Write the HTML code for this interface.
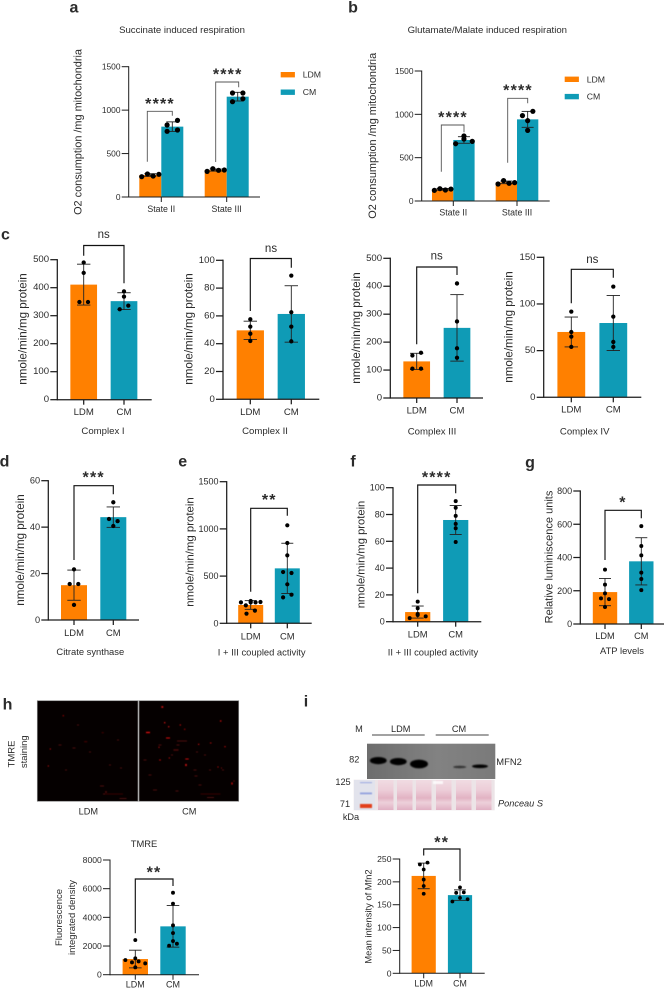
<!DOCTYPE html>
<html lang="en">
<head>
<meta charset="utf-8">
<title>Mitochondrial respiration figure</title>
<style>
html,body{margin:0;padding:0;background:#fff;}
body{width:666px;height:988px;overflow:hidden;}
svg{display:block;font-family:"Liberation Sans",Arial,sans-serif;filter:blur(0.3px);}
text{fill:#2b2b2b;}
</style>
</head>
<body>
<svg id="figure" width="666" height="988" viewBox="0 0 666 988" xmlns="http://www.w3.org/2000/svg">
<defs>
<filter id="soft" x="-30%" y="-80%" width="160%" height="260%"><feGaussianBlur stdDeviation="0.9"/></filter>
<filter id="softer" x="-30%" y="-30%" width="160%" height="160%"><feGaussianBlur stdDeviation="0.5"/></filter>
<linearGradient id="blotBg" x1="0" x2="1" y1="0" y2="0"><stop offset="0" stop-color="#6d6d6d"/><stop offset="0.55" stop-color="#828282"/><stop offset="1" stop-color="#7a7a7a"/></linearGradient>
<linearGradient id="laneBg" x1="0" x2="0" y1="0" y2="1"><stop offset="0" stop-color="#f0dbe2"/><stop offset="0.35" stop-color="#ecccd7"/><stop offset="0.6" stop-color="#e2b3c3"/><stop offset="0.75" stop-color="#edd0da"/><stop offset="1" stop-color="#e0b0c3"/></linearGradient>
</defs>

<!-- TMRE micrographs -->
<g>
<rect x="37.3" y="700.7" width="100.7" height="100.6" fill="#050000" stroke="#8a8a8a" stroke-width="0.7"/>
<rect x="139" y="700.7" width="99.7" height="100.6" fill="#050000" stroke="#8a8a8a" stroke-width="0.7"/>
<g id="specks" filter="url(#softer)"></g>
</g>

<!-- Western blot -->
<g>
<rect x="367" y="743.7" width="128.3" height="35.3" fill="url(#blotBg)"/>
<g fill="#050505" filter="url(#soft)">
<ellipse cx="378.3" cy="760.6" rx="8.4" ry="3.6"/>
<ellipse cx="398.3" cy="761.6" rx="8.4" ry="3.6"/>
<ellipse cx="419" cy="764" rx="9" ry="4.4"/>
<ellipse cx="459.7" cy="767" rx="6.5" ry="1.3" fill="#333"/>
<ellipse cx="480" cy="766.3" rx="8" ry="1.8"/>
</g>
<rect x="353.7" y="779.7" width="141" height="30.6" fill="#ece4e7"/>
<rect x="354" y="780" width="21" height="30" fill="#e2e3ec"/>
<g>
<rect x="378" y="780" width="15.5" height="30" fill="url(#laneBg)"/>
<rect x="397" y="780" width="15.5" height="30" fill="url(#laneBg)"/>
<rect x="416" y="780" width="15.5" height="30" fill="url(#laneBg)"/>
<rect x="436" y="780" width="15.5" height="30" fill="url(#laneBg)"/>
<rect x="456" y="780" width="15.5" height="30" fill="url(#laneBg)"/>
<rect x="476" y="780" width="15.5" height="30" fill="url(#laneBg)"/>
</g>
<rect x="360" y="782" width="12" height="1.2" fill="#a5b1e2" filter="url(#softer)"/>
<rect x="360" y="792.5" width="12" height="1.8" fill="#93a1de" filter="url(#softer)"/>
<rect x="360" y="804" width="12" height="4" fill="#e2401f" filter="url(#softer)"/>
<rect x="433" y="781" width="10" height="3" fill="#fff" opacity="0.8" filter="url(#softer)"/>
</g>
<g stroke="#444" stroke-width="1">
<line x1="372" x2="424.7" y1="735" y2="735"/>
<line x1="435.7" x2="488.7" y1="735" y2="735"/>
</g>
<g id="annotations"></g>
<g id="charts"></g>
</svg>

<script>
// ---------- shared categories ----------
const treatmentLabels = ['LDM', 'CM'];
const stateLabels = ['State II', 'State III'];

// ---------- a: succinate respiration ----------
const succinateTicks = [0, 500, 1000, 1500];
const succinateLdmMeans = [253, 310];
const succinateCmMeans = [810, 1155];
const succinateLdmSd = [15, 12];
const succinateCmSd = [55, 50];
const succinateLdmStateII = [234, 265, 242, 261];
const succinateCmStateII = [829, 756, 882, 771];
const succinateLdmStateIII = [295, 326, 307, 311];
const succinateCmStateIII = [1197, 1097, 1197, 1132];

// ---------- b: glutamate/malate respiration ----------
const glutamateTicks = [0, 500, 1000, 1500];
const glutamateLdmMeans = [135, 215];
const glutamateCmMeans = [704, 942];
const glutamateLdmSd = [10, 15];
const glutamateCmSd = [38, 92];
const glutamateLdmStateII = [123, 142, 127, 138];
const glutamateCmStateII = [661, 715, 688, 750];
const glutamateLdmStateIII = [196, 235, 204, 212];
const glutamateCmStateIII = [985, 1035, 927, 815];

// ---------- c: complexes ----------
const complexITicks = [0, 100, 200, 300, 400, 500];
const complexIMeans = [411, 352];
const complexISd = [73, 30];
const complexILdm = [490, 453, 349, 349];
const complexICm = [387, 368, 323, 336];

const complexIITicks = [0, 20, 40, 60, 80, 100];
const complexIIMeans = [49.6, 61.4];
const complexIISd = [6.6, 20.3];
const complexIILdm = [57.6, 52.3, 47.2, 42];
const complexIICm = [89, 62.6, 52.3, 41.7];

const complexIIITicks = [0, 100, 200, 300, 400, 500];
const complexIIIMeans = [131, 251];
const complexIIISd = [29, 119];
const complexIIILdm = [152, 162, 105, 105];
const complexIIICm = [410, 274, 178, 144];

const complexIVTicks = [0, 50, 100, 150];
const complexIVMeans = [70, 79.6];
const complexIVSd = [16, 29.5];
const complexIVLdm = [91.8, 70, 65, 54];
const complexIVCm = [118.6, 86.4, 59.3, 54];

// ---------- d: citrate synthase ----------
const citrateTicks = [0, 20, 40, 60];
const citrateMeans = [15, 44.3];
const citrateSd = [6.5, 4.4];
const citrateLdm = [21.8, 15.5, 15.5, 6.5];
const citrateCm = [50.7, 43.5, 42.6, 40.5];

// ---------- e: I + III ----------
const coupledOneTicks = [0, 500, 1000, 1500];
const coupledOneMeans = [194, 582];
const coupledOneSd = [46, 266];
const coupledOneLdm = [222, 236, 190, 222, 222, 226, 102, 134];
const coupledOneCm = [1038, 851, 720, 543, 533, 413, 275, 303];

// ---------- f: II + III ----------
const coupledTwoTicks = [0, 20, 40, 60, 80, 100];
const coupledTwoMeans = [7.2, 75.9];
const coupledTwoSd = [4.5, 10.8];
const coupledTwoLdm = [2.7, 5, 4, 5.7, 10, 15];
const coupledTwoCm = [90, 85, 79, 73, 69.7, 59.5];

// ---------- g: ATP ----------
const atpTicks = [0, 200, 400, 600, 800];
const atpMeans = [192, 377];
const atpSd = [82, 142];
const atpLdm = [327, 237, 184, 154, 150, 102];
const atpCm = [589, 469, 413, 309, 271, 204];

// ---------- h: TMRE ----------
const tmreTicks = [0, 2000, 4000, 6000, 8000];
const tmreMeans = [1093, 3372];
const tmreSd = [616, 1450];
const tmreLdm = [2419, 1023, 860, 930, 790, 1140, 512];
const tmreCm = [5720, 4953, 3442, 2907, 2349, 2023, 2163];

// ---------- i: Mfn2 ----------
const mfn2Ticks = [0, 50, 100, 150, 200, 250];
const mfn2Means = [213, 171];
const mfn2Sd = [28, 11.5];
const mfn2Ldm = [238, 242, 227, 205, 191, 174];
const mfn2Cm = [188, 176, 177, 157, 165, 162];

const ORANGE = '#ff8000';
const TEAL = '#0f9bb6';
const SVGNS = 'http://www.w3.org/2000/svg';

function mk(tag, attrs, parent, name, interactable) {
  const el = document.createElementNS(SVGNS, tag);
  for (const k in attrs) el.setAttribute(k, attrs[k]);
  
  
  parent.appendChild(el);
  return el;
}
function label(parent, name, str, x, y, size, opts) {
  const o = opts || {};
  const a = { x: x, y: y, 'font-size': size, 'text-anchor': o.anchor || 'middle', 'dominant-baseline': 'central' };
  if (o.rotate) a.transform = 'rotate(-90 ' + x + ' ' + y + ')';
  if (o.weight) a['font-weight'] = o.weight;
  if (o.italic) a['font-style'] = 'italic';
  const t = mk('text', a, parent, name);
  t.textContent = str;
  return t;
}
function linearY(cfg) {
  return function (v) { return cfg.y0 - v / cfg.yMax * (cfg.y0 - cfg.top); };
}
// Prism-style swarm: values in the same row of dot height spread sideways, in input order.
function swarm(values, y, cfg, barW) {
  const dot = cfg.r * 2;
  const row = cfg.row || dot;
  const order = values.map(function (v, i) { return i; }).sort(function (p, q) { return values[p] - values[q]; });
  const dx = new Array(values.length).fill(0);
  let i = 0;
  while (i < order.length) {
    const startY = y(values[order[i]]);
    const grp = [];
    while (i < order.length && startY - y(values[order[i]]) <= row) { grp.push(order[i]); i++; }
    grp.sort(function (p, q) { return p - q; });
    const n = grp.length;
    if (n > 1) {
      const pitch = Math.min(dot * 2, barW * 0.78 / (n - 1));
      grp.forEach(function (idx, k) { dx[idx] = (k - (n - 1) / 2) * pitch; });
    }
  }
  return dx;
}
function pairBars(first, step, w, means, sds, ldm, cm) {
  return [
    { cx: first, w: w, mean: means[0], sd: sds[0], pts: ldm, color: ORANGE, name: 'ldm' },
    { cx: first + step, w: w, mean: means[1], sd: sds[1], pts: cm, color: TEAL, name: 'cm' }
  ];
}
function groupedBars(first, step, w, ldmMeans, cmMeans, ldmSd, cmSd, ldmPts, cmPts) {
  const out = [];
  ldmMeans.forEach(function (m, i) {
    const c = first + step * i;
    out.push({ cx: c - w / 2, w: w, mean: m, sd: ldmSd[i], pts: ldmPts[i], color: ORANGE, name: 'ldm-state-' + (i + 2) });
    out.push({ cx: c + w / 2, w: w, mean: cmMeans[i], sd: cmSd[i], pts: cmPts[i], color: TEAL, name: 'cm-state-' + (i + 2) });
  });
  return out;
}
function drawBracket(g, br, stroke, sw, name) {
  mk('path', {
    d: 'M' + br.x1 + ' ' + br.leftBottom + 'V' + br.top + 'H' + br.x2 + 'V' + br.rightBottom,
    fill: 'none', stroke: stroke, 'stroke-width': sw
  }, g, name + '-bracket');
  if (br.stars) {
    const fs = br.starSize || 16;
    const t = mk('text', {
      x: br.tx, y: br.ty + fs * 0.46, 'font-size': fs, 'font-weight': 'bold',
      'text-anchor': 'middle', 'letter-spacing': br.spacing === undefined ? 1.2 : br.spacing, fill: '#222'
    }, g, name + '-significance');
    t.textContent = br.stars;
  } else {
    label(g, name + '-significance', 'ns', br.tx, br.ty, 11.5);
  }
}
function drawPanel(cfg) {
  const root = document.getElementById('charts');
  const g = mk('g', {}, root, cfg.name);
  const y = linearY(cfg);
  const axisW = cfg.axisW || 1.25;
  // bars
  cfg.bars.forEach(function (b) {
    mk('rect', { x: b.cx - b.w / 2, y: y(b.mean), width: b.w, height: cfg.y0 - y(b.mean), fill: b.color }, g, cfg.name + '-bar-' + b.name);
  });
  // axes
  mk('line', { x1: cfg.x, x2: cfg.x, y1: cfg.top - axisW / 2, y2: cfg.y0 + axisW / 2, stroke: '#1c1c1c', 'stroke-width': axisW }, g, cfg.name + '-y-axis');
  mk('line', { x1: cfg.x, x2: cfg.end, y1: cfg.y0, y2: cfg.y0, stroke: '#1c1c1c', 'stroke-width': axisW }, g, cfg.name + '-x-axis');
  cfg.ticks.forEach(function (t) {
    mk('line', { x1: cfg.x - 7, x2: cfg.x, y1: y(t), y2: y(t), stroke: '#1c1c1c', 'stroke-width': axisW }, g, cfg.name + '-y-tick');
    label(g, cfg.name + '-y-tick-label', String(t), cfg.x - 8.2, y(t), cfg.tickSize, { anchor: 'end' });
  });
  cfg.cats.forEach(function (c, i) {
    const cx = cfg.catX(i);
    mk('line', { x1: cx, x2: cx, y1: cfg.y0, y2: cfg.y0 + 5, stroke: '#1c1c1c', 'stroke-width': axisW }, g, cfg.name + '-x-tick');
    label(g, cfg.name + '-x-label', c, cx, cfg.xLabelY, cfg.xSize);
  });
  // error bars then dots
  cfg.bars.forEach(function (b) {
    const hi = y(b.mean + b.sd), lo = y(b.mean - b.sd), cap = cfg.cap || 6.7;
    mk('line', { x1: b.cx, x2: b.cx, y1: hi, y2: lo, stroke: '#222', 'stroke-width': 0.9 }, g, cfg.name + '-error-bar-' + b.name);
    mk('line', { x1: b.cx - cap, x2: b.cx + cap, y1: hi, y2: hi, stroke: '#222', 'stroke-width': 0.9 }, g, cfg.name + '-error-cap-' + b.name);
    mk('line', { x1: b.cx - cap, x2: b.cx + cap, y1: lo, y2: lo, stroke: '#222', 'stroke-width': 0.9 }, g, cfg.name + '-error-cap-' + b.name);
    const dx = swarm(b.pts, y, cfg, b.w);
    b.pts.forEach(function (v, i) {
      mk('circle', { cx: b.cx + dx[i], cy: y(v), r: cfg.r, fill: '#000' }, g, cfg.name + '-point-' + b.name);
    });
  });
  // brackets
  cfg.brackets.forEach(function (br) {
    drawBracket(g, br, cfg.bracketColor || '#111', cfg.bracketW || 1.15, cfg.name);
  });
  // y title
  cfg.yTitles.forEach(function (t) {
    label(g, cfg.name + '-y-title', t.text, t.x, t.y, t.size, { rotate: true });
  });
  if (cfg.title) label(g, cfg.name + '-title', cfg.title.text, cfg.title.x, cfg.title.y, cfg.title.size);
  if (cfg.legend) {
    const L = cfg.legend;
    treatmentLabels.forEach(function (s, i) {
      const ly = L.y + i * L.gap;
      mk('rect', { x: L.x, y: ly - 2.7, width: 14.2, height: 5.4, fill: i ? TEAL : ORANGE }, g, 'legend-swatch-' + s.toLowerCase());
      label(g, 'legend-entry-' + s.toLowerCase(), s, L.x + 22, ly, 8.7, { anchor: 'start' });
    });
  }
}
const yT = 'nmole/min/mg protein';
const o2T = 'O2 consumption /mg mitochondria';

drawPanel({
  name: 'panel-a-succinate', x: 128.7, top: 66.7, y0: 197, end: 260, yMax: 1500, ticks: succinateTicks, tickSize: 8.4,
  cats: stateLabels, catX: function (i) { return 161.3 + 65.4 * i; }, xLabelY: 209, xSize: 8.8,
  bars: groupedBars(161.3, 65.4, 22, succinateLdmMeans, succinateCmMeans, succinateLdmSd, succinateCmSd,
    [succinateLdmStateII, succinateLdmStateIII], [succinateCmStateII, succinateCmStateIII]),
  r: 2.6, row: 5, cap: 6, axisW: 1, bracketColor: '#555', bracketW: 0.9,
  brackets: [
    { x1: 147.3, x2: 172.3, top: 111.3, leftBottom: 161.7, rightBottom: 115.7, stars: '****', tx: 160, ty: 101.7 },
    { x1: 215.7, x2: 238.7, top: 82, leftBottom: 162, rightBottom: 87.3, stars: '****', tx: 227.7, ty: 72.3 }
  ],
  yTitles: [{ text: o2T, x: 78.3, y: 132, size: 10.9 }],
  title: { text: 'Succinate induced respiration', x: 182, y: 30.7, size: 9.6 },
  legend: { x: 280.7, y: 74.7, gap: 17.5 }
});
drawPanel({
  name: 'panel-b-glutamate', x: 421.7, top: 71, y0: 201, end: 549.7, yMax: 1500, ticks: glutamateTicks, tickSize: 8.4,
  cats: stateLabels, catX: function (i) { return 453.3 + 63.7 * i; }, xLabelY: 212.7, xSize: 8.8,
  bars: groupedBars(453.3, 63.7, 21.3, glutamateLdmMeans, glutamateCmMeans, glutamateLdmSd, glutamateCmSd,
    [glutamateLdmStateII, glutamateLdmStateIII], [glutamateCmStateII, glutamateCmStateIII]),
  r: 2.6, row: 4.8, cap: 6, axisW: 1, bracketColor: '#555', bracketW: 0.9,
  brackets: [
    { x1: 441.3, x2: 464, top: 125, leftBottom: 171.7, rightBottom: 132.3, stars: '****', tx: 453, ty: 115 },
    { x1: 507.7, x2: 527.7, top: 98.3, leftBottom: 162.7, rightBottom: 103.3, stars: '****', tx: 518, ty: 88 }
  ],
  yTitles: [{ text: o2T, x: 373, y: 135.8, size: 10.9 }],
  title: { text: 'Glutamate/Malate induced respiration', x: 487.3, y: 30.7, size: 9.6 },
  legend: { x: 564.7, y: 79.3, gap: 17.3 }
});

function simplePanel(o) {
  o.cats = treatmentLabels;
  o.catX = function (i) { return o.first + o.step * i; };
  o.bars = pairBars(o.first, o.step, o.w, o.means, o.sds, o.ldm, o.cm);
  drawPanel(o);
}
simplePanel({
  name: 'panel-c-complex-i', x: 57.3, top: 259.7, y0: 399.7, end: 151.7, yMax: 500, ticks: complexITicks, tickSize: 9.6,
  first: 83.7, step: 40.3, w: 26.7, means: complexIMeans, sds: complexISd, ldm: complexILdm, cm: complexICm,
  xLabelY: 412.3, xSize: 9.6, r: 2.15,
  brackets: [{ x1: 83.7, x2: 124, top: 245.5, leftBottom: 255.7, rightBottom: 283.3, tx: 103.7, ty: 235 }],
  yTitles: [{ text: yT, x: 23, y: 329, size: 11.6 }],
  title: { text: 'Complex I', x: 103, y: 431.7, size: 9.6 }
});
simplePanel({
  name: 'panel-c-complex-ii', x: 223, top: 260.3, y0: 399.3, end: 319.3, yMax: 100, ticks: complexIITicks, tickSize: 9.6,
  first: 250.3, step: 41, w: 27.3, means: complexIIMeans, sds: complexIISd, ldm: complexIILdm, cm: complexIICm,
  xLabelY: 412.3, xSize: 9.6, r: 2.15,
  brackets: [{ x1: 250.3, x2: 291.3, top: 258.5, leftBottom: 311, rightBottom: 267.7, tx: 271, ty: 249 }],
  yTitles: [{ text: yT, x: 189, y: 329, size: 11.6 }],
  title: { text: 'Complex II', x: 265, y: 431.7, size: 9.6 }
});
simplePanel({
  name: 'panel-c-complex-iii', x: 390.3, top: 258.3, y0: 398, end: 483, yMax: 500, ticks: complexIIITicks, tickSize: 9.6,
  first: 416.7, step: 40.3, w: 26.7, means: complexIIIMeans, sds: complexIIISd, ldm: complexIIILdm, cm: complexIIICm,
  xLabelY: 411, xSize: 9.6, r: 2.15,
  brackets: [{ x1: 416.7, x2: 457, top: 267, leftBottom: 344.3, rightBottom: 275, tx: 436.7, ty: 256.7 }],
  yTitles: [{ text: yT, x: 356.3, y: 328, size: 11.6 }],
  title: { text: 'Complex III', x: 432, y: 432, size: 9.6 }
});
simplePanel({
  name: 'panel-c-complex-iv', x: 543.7, top: 257.3, y0: 397.3, end: 641.3, yMax: 150, ticks: complexIVTicks, tickSize: 9.6,
  first: 571.3, step: 42, w: 27.8, means: complexIVMeans, sds: complexIVSd, ldm: complexIVLdm, cm: complexIVCm,
  xLabelY: 410, xSize: 9.6, r: 2.15,
  brackets: [{ x1: 571.3, x2: 613.3, top: 269.3, leftBottom: 303.3, rightBottom: 277.7, tx: 592.3, ty: 260 }],
  yTitles: [{ text: yT, x: 509, y: 327, size: 11.6 }],
  title: { text: 'Complex IV', x: 584.7, y: 432, size: 9.6 }
});
simplePanel({
  name: 'panel-d-citrate-synthase', x: 48.3, top: 480.7, y0: 620, end: 139, yMax: 60, ticks: citrateTicks, tickSize: 9.2,
  first: 74, step: 39.3, w: 26, means: citrateMeans, sds: citrateSd, ldm: citrateLdm, cm: citrateCm,
  xLabelY: 632.7, xSize: 9.4, r: 2.15,
  brackets: [{ x1: 74, x2: 113.3, top: 485.7, leftBottom: 560, rightBottom: 494.3, stars: '***', tx: 93.7, ty: 475 }],
  yTitles: [{ text: yT, x: 20.7, y: 550, size: 11.6 }],
  title: { text: 'Citrate synthase', x: 90.3, y: 651.7, size: 9.4 }
});
simplePanel({
  name: 'panel-e-i-iii-coupled', x: 226.7, top: 481.7, y0: 623.3, end: 311.7, yMax: 1500, ticks: coupledOneTicks, tickSize: 9,
  first: 250.7, step: 36.6, w: 25, means: coupledOneMeans, sds: coupledOneSd, ldm: coupledOneLdm, cm: coupledOneCm,
  xLabelY: 636, xSize: 9.4, r: 2.1, cap: 6,
  brackets: [{ x1: 250.7, x2: 287.3, top: 508.3, leftBottom: 591.7, rightBottom: 515.7, stars: '**', tx: 269.3, ty: 497.7 }],
  yTitles: [{ text: yT, x: 190.7, y: 552, size: 11.4 }],
  title: { text: 'I + III coupled activity', x: 261.7, y: 652, size: 9.4 }
});
simplePanel({
  name: 'panel-f-ii-iii-coupled', x: 393, top: 487.7, y0: 621.7, end: 481.3, yMax: 100, ticks: coupledTwoTicks, tickSize: 9,
  first: 417.7, step: 38, w: 25.2, means: coupledTwoMeans, sds: coupledTwoSd, ldm: coupledTwoLdm, cm: coupledTwoCm,
  xLabelY: 634, xSize: 9.4, r: 2, cap: 6,
  brackets: [{ x1: 417.7, x2: 455.7, top: 485, leftBottom: 593.3, rightBottom: 493.3, stars: '****', tx: 436.7, ty: 475 }],
  yTitles: [{ text: yT, x: 361.3, y: 554.5, size: 11.2 }],
  title: { text: 'II + III coupled activity', x: 433, y: 652, size: 9.4 }
});
simplePanel({
  name: 'panel-g-atp', x: 580.3, top: 491, y0: 624, end: 664, yMax: 800, ticks: atpTicks, tickSize: 9,
  first: 605, step: 36.3, w: 24.4, means: atpMeans, sds: atpSd, ldm: atpLdm, cm: atpCm,
  xLabelY: 636, xSize: 9.2, r: 2, cap: 6,
  brackets: [{ x1: 605, x2: 641.3, top: 510.3, leftBottom: 560, rightBottom: 518.3, stars: '*', tx: 623, ty: 500 }],
  yTitles: [{ text: 'Relative luminiscence units', x: 549.7, y: 557, size: 11 }],
  title: { text: 'ATP levels', x: 622, y: 650.7, size: 9.4 }
});
simplePanel({
  name: 'panel-h-tmre', x: 110, top: 860, y0: 974.7, end: 199, yMax: 8000, ticks: tmreTicks, tickSize: 8.6,
  first: 135.3, step: 37.7, w: 25.4, means: tmreMeans, sds: tmreSd, ldm: tmreLdm, cm: tmreCm,
  xLabelY: 984.7, xSize: 9, r: 1.95, cap: 6.3, axisW: 1,
  brackets: [{ x1: 135.3, x2: 173, top: 879, leftBottom: 933.3, rightBottom: 886, stars: '**', tx: 154, ty: 870.3 }],
  yTitles: [
    { text: 'Fluorescence', x: 59.3, y: 917.5, size: 9.5 },
    { text: 'integrated density', x: 72.7, y: 917.5, size: 9.5 }
  ],
  title: { text: 'TMRE', x: 144, y: 843.7, size: 9.4 }
});
simplePanel({
  name: 'panel-i-mfn2', x: 399.7, top: 859, y0: 973.3, end: 484.7, yMax: 250, ticks: mfn2Ticks, tickSize: 8.6,
  first: 423.7, step: 36.3, w: 24.2, means: mfn2Means, sds: mfn2Sd, ldm: mfn2Ldm, cm: mfn2Cm,
  xLabelY: 983.7, xSize: 8.8, r: 1.9, cap: 6, axisW: 1,
  brackets: [{ x1: 423.7, x2: 460, top: 849, leftBottom: 855.5, rightBottom: 881, stars: '**', tx: 441.7, ty: 840.3 }],
  yTitles: [{ text: 'Mean intensity of Mfn2', x: 368, y: 916.5, size: 9.4 }]
});

// ---------- annotations ----------
const ann = document.getElementById('annotations');
[['a', 74, 8], ['b', 353, 8], ['c', 5.5, 235], ['d', 4.5, 462], ['e', 182.7, 462], ['f', 353, 462], ['g', 530, 463], ['h', 7.5, 705], ['i', 306, 702]].forEach(function (p) {
  label(ann, 'panel-letter-' + p[0], p[0], p[1], p[2], 16, { weight: 'bold' });
});
label(ann, 'tmre-staining-label-line-1', 'TMRE', 12, 754, 9.5, { rotate: true });
label(ann, 'tmre-staining-label-line-2', 'staining', 24.7, 751.7, 9.5, { rotate: true });
label(ann, 'micrograph-label-ldm', 'LDM', 88.3, 811.7, 9.2);
label(ann, 'micrograph-label-cm', 'CM', 189.3, 811.7, 9.2);
label(ann, 'blot-marker-label', 'M', 359, 729, 9.2);
label(ann, 'blot-ldm-label', 'LDM', 400.7, 729, 9.2);
label(ann, 'blot-cm-label', 'CM', 459, 729, 9.2);
label(ann, 'blot-82-kda', '82', 354.3, 759.3, 9.2);
label(ann, 'blot-mfn2-label', 'MFN2', 496.3, 761.7, 9.4, { anchor: 'start' });
label(ann, 'blot-125-kda', '125', 343, 782, 9.2);
label(ann, 'blot-71-kda', '71', 345, 804, 9.2);
label(ann, 'blot-kda-unit', 'kDa', 351, 817, 9.2);
label(ann, 'ponceau-s-label', 'Ponceau S', 498, 803.7, 9.2, { anchor: 'start', italic: true });

// ---------- micrograph specks (image texture, not chart data) ----------
const speckGroup = document.getElementById('specks');
const brightSpecks = [
  [162.3,707,2,1.7],[164.7,722.7,1.3,1.4],[168.7,726.7,1.3,1.3],[180.3,725,1.2,1.2],[184.7,729.3,1.1,1.1],[220.7,721,1.5,1.3],
  [148,732.5,4,1.5],[168,738,4,1.1],[198.7,744.3,1.3,1.1],[210.7,743,1.7,0.8],[225,746.7,1.3,1.1],[159,747.3,1,1.2],
  [160,760,1.5,1.1],[169.3,758,1.1,1.1],[187,759,3.5,1],[186,765,1.6,2.2],[218,767,1,1.1],[221.5,768,0.8,0.8],[232,783.5,1.3,2.2],[234,781,0.8,0.8],
  [63.3,715.7,1,1.2],[50.3,749,1,1.2],[48.3,766,1,1.2]
];
brightSpecks.forEach(function (s) {
  mk('rect', { x: s[0] - s[2] / 2, y: s[1] - s[3] / 2, width: s[2], height: s[3], fill: '#c80d0d' }, speckGroup, 'red-speck');
});
const dimSpecks = [
  [85.7,741.7,3,1],[102.7,732.7,2,1],[74,748,3,1],[118,740,2,1],[60,745,3,1],[90,752,2,1],[110,765,2,1],[121,768,2,1],[66,770,2,1],[78,725,2,1],
  [102,786,4,1],[106,792,1.5,2],[104,794,2,1],[113,794,20,0.7],[123,798.5,7,1],
  [182,741,10,1],[176,750,5,1.5],[197,752,2,1],[210,770,2,1],[196,776,3,1],[150,775,3,1],[155,790,4,1],[177,791,3,1],
  [210.5,794,20,0.7],[210.5,797.5,7,1],[178,745,3,1],[172,755,2,1],[205,755,2,1],[223,770,2,1],[195,770,3,1],[145,760,3,1],[160,745,3,1],[200,785,3,1]
];
dimSpecks.forEach(function (s) {
  mk('rect', { x: s[0] - s[2] / 2, y: s[1] - s[3] / 2, width: s[2], height: s[3], fill: '#4e0909' }, speckGroup, 'dim-red-speck');
});
</script>
</body>
</html>
